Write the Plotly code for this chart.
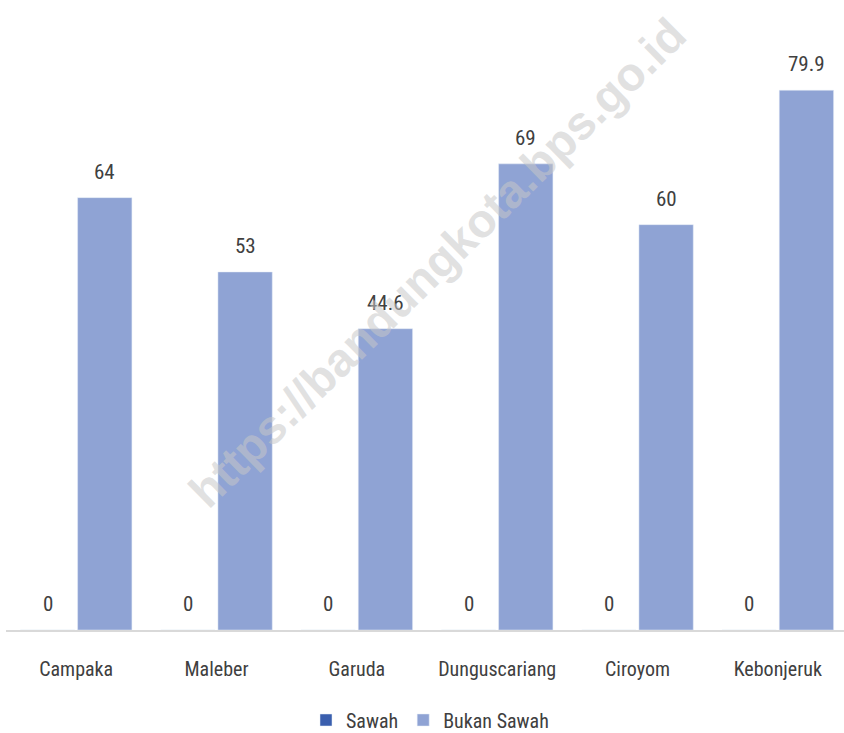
import plotly.graph_objects as go

categories = ["Campaka", "Maleber", "Garuda", "Dunguscariang", "Ciroyom", "Kebonjeruk"]
sawah = [0, 0, 0, 0, 0, 0]
bukan_sawah = [64, 53, 44.6, 69, 60, 79.9]
sawah_labels = ["0", "0", "0", "0", "0", "0"]
bukan_labels = ["64", "53", "44.6", "69", "60", "79.9"]

FONT = "Roboto Condensed, Roboto, sans-serif"
TXT = "#404040"

def f(size):
    return dict(family=FONT, size=size, color=TXT)

fig = go.Figure()
fig.add_trace(go.Bar(
    name="Sawah", x=categories, y=sawah, marker_color="#3a5fae",
))
fig.add_trace(go.Bar(
    name="Bukan Sawah", x=categories, y=bukan_sawah, marker_color="#8fa3d4",
))

# data labels placed above each bar of each series
for vals, labels, shift in [(sawah, sawah_labels, -28.6), (bukan_sawah, bukan_labels, 28.6)]:
    for c, v, t in zip(categories, vals, labels):
        fig.add_annotation(x=c, y=v, text=t, showarrow=False, xref="x", yref="y",
                           xshift=shift, yanchor="bottom", yshift=12, font=f(21))

fig.update_layout(
    width=848, height=733,
    margin=dict(l=6, r=0, t=22, b=103),
    paper_bgcolor="white", plot_bgcolor="white",
    barmode="group", bargap=0.185, bargroupgap=0.05,
    font=f(20),
    showlegend=True,
    legend=dict(orientation="h", x=(430 - 6) / 842, xanchor="center",
                yref="container", y=(733 - 720) / 733, yanchor="middle",
                font=f(20), itemwidth=30),
    xaxis=dict(showline=True, linecolor="#d9d9d9", linewidth=1.5, ticks="",
               showgrid=False, ticklabelstandoff=20, automargin=False,
               tickfont=f(20)),
    yaxis=dict(range=[0, 90], showgrid=False, showticklabels=False, zeroline=False,
               showline=False, automargin=False),
)

fig.add_annotation(
    text="<b>https://bandungkota.bps.go.id</b>", xref="paper", yref="paper",
    x=(437 - 6) / 842, y=(630 - 262) / 608, showarrow=False, textangle=-44.5,
    font=dict(family="Liberation Sans, Arial, sans-serif", size=47, color="rgba(200,200,200,0.55)"),
)

post = ("document.body.style.margin='0';"
        "document.body.style.overflow='hidden';")
fig.write_html("out.html", post_script=post, config={"displayModeBar": False})
